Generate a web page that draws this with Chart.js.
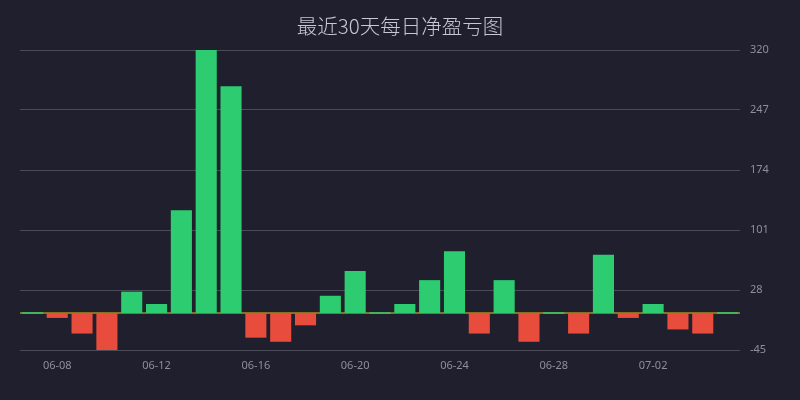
<!DOCTYPE html>
<html>
<head>
<meta charset="utf-8">
<script src="https://cdn.jsdelivr.net/npm/chart.js@4/dist/chart.umd.min.js"></script>
<style>
  html, body { margin: 0; padding: 0; background: #1f1f2e; }
  #wrap { width: 800px; height: 400px; }
</style>
</head>
<body>
<div id="wrap"><canvas id="c"></canvas></div>
<script>
const titleText = '最近30天每日净盈亏图';
const dates = ['06-07','06-08','06-09','06-10','06-11','06-12','06-13','06-14','06-15','06-16',
               '06-17','06-18','06-19','06-20','06-21','06-22','06-23','06-24','06-25','06-26',
               '06-27','06-28','06-29','06-30','07-01','07-02','07-03','07-04','07-05'];
const netPnl = [0, -6, -25, -45, 26, 11, 125, 320, 276, -30,
                -35, -15, 21, 51, 0, 11, 40, 75, -25, 40,
                -35, 0, -25, 71, -6, 11, -20, -25, 0];
const yMin = -45, yMax = 320, yStep = 73;
const GREEN = '#2ecc71', RED = '#e74c3c';

const zeroLine = {
  id: 'zeroLine',
  beforeDatasetsDraw(chart) {
    const y = chart.scales.y.getPixelForValue(0);
    const a = chart.chartArea, ctx = chart.ctx;
    ctx.save();
    ctx.strokeStyle = '#f1c40f';
    ctx.lineWidth = 1;
    ctx.beginPath();
    ctx.moveTo(a.left, y);
    ctx.lineTo(a.right, y);
    ctx.stroke();
    ctx.restore();
  }
};

new Chart(document.getElementById('c'), {
  type: 'bar',
  data: {
    labels: dates,
    datasets: [{
      data: netPnl,
      yAxisID: 'y',
      backgroundColor: ctx => (ctx.raw >= 0 ? GREEN : RED),
      borderWidth: 0,
      barPercentage: 0.85,
      categoryPercentage: 1.0,
      minBarLength: 1.5
    }]
  },
  options: {
    responsive: true,
    maintainAspectRatio: false,
    animation: false,
    layout: { padding: { left: 0, right: 0, top: 0, bottom: 0 } },
    plugins: {
      legend: { display: false },
      tooltip: { enabled: false },
      title: {
        display: true,
        text: titleText,
        color: '#c8c8d2',
        font: { family: '"Noto Sans CJK SC", "Noto Sans", sans-serif', size: 20.5, weight: 300 },
        padding: { top: 14, bottom: 11.4 }
      }
    },
    scales: {
      x: {
        grid: { display: false, drawTicks: false },
        border: { display: false },
        ticks: {
          autoSkip: false,
          maxRotation: 0,
          padding: 9,
          color: '#8e8e9c',
          font: { family: '"Noto Sans", sans-serif', size: 11 },
          callback: function (v, i) { return i % 4 === 1 ? this.getLabelForValue(v) : ''; }
        },
        afterFit: s => { s.height = 50; }
      },
      y: {
        position: 'right',
        min: yMin,
        max: yMax,
        grid: { color: 'rgba(255,255,255,0.2)', drawTicks: false, lineWidth: 1 },
        border: { display: false },
        ticks: {
          stepSize: yStep,
          padding: 10,
          color: '#8e8e9c',
          font: { family: '"Noto Sans", sans-serif', size: 11 }
        },
        afterFit: s => { s.width = 60; }
      },
      leftGutter: {
        type: 'linear',
        position: 'left',
        display: true,
        grid: { display: false, drawTicks: false },
        border: { display: false },
        ticks: { display: false },
        afterFit: s => { s.width = 20; }
      }
    }
  },
  plugins: [zeroLine]
});
</script>
</body>
</html>
